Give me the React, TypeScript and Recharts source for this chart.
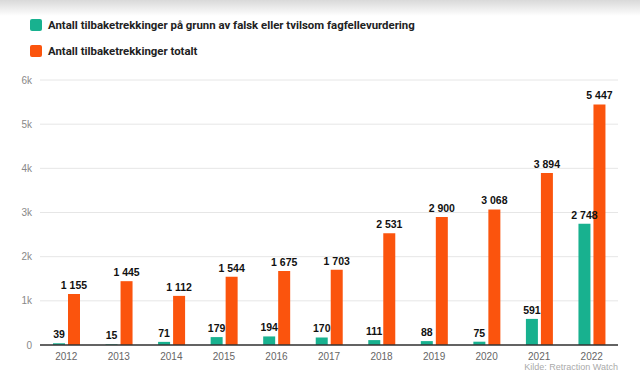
import { BarChart, Bar, XAxis, YAxis, CartesianGrid, LabelList } from "recharts";

const years = ["2012", "2013", "2014", "2015", "2016", "2017", "2018", "2019", "2020", "2021", "2022"];
const peerReview = [39, 15, 71, 179, 194, 170, 111, 88, 75, 591, 2748];
const total = [1155, 1445, 1112, 1544, 1675, 1703, 2531, 2900, 3068, 3894, 5447];
const yTicks = [0, 1000, 2000, 3000, 4000, 5000, 6000];

const TEAL = "#18b18f";
const ORANGE = "#fb540d";

const data = years.map((y, i) => ({ year: y, peer: peerReview[i], total: total[i] }));

// non-breaking space as thousands separator so the label doesn't wrap
const fmt = (v: any) => String(v).replace(/\B(?=(\d{3})+(?!\d))/g, "\u00a0");

const legendText: React.CSSProperties = {
  fontFamily: "Roboto, sans-serif",
  fontWeight: 700,
  fontSize: 11.4,
  color: "#222",
  whiteSpace: "nowrap",
};

export default function App() {
  return (
    <div
      style={{
        position: "absolute",
        left: 0,
        top: 0,
        width: 640,
        height: 382,
        background: "linear-gradient(#d9d9d9 0px, #ffffff 16px, #ffffff 100%)",
        fontFamily: "'Liberation Sans', Arial, sans-serif",
        overflow: "hidden",
      }}
    >
      <div style={{ position: "absolute", left: 30, top: 19, width: 12, height: 12, background: TEAL, borderRadius: 2 }} />
      <div style={{ ...legendText, position: "absolute", left: 48, top: 18 }}>
        Antall tilbaketrekkinger på grunn av falsk eller tvilsom fagfellevurdering
      </div>
      <div style={{ position: "absolute", left: 30, top: 45, width: 12, height: 12, background: ORANGE, borderRadius: 2 }} />
      <div style={{ ...legendText, position: "absolute", left: 48, top: 44 }}>
        Antall tilbaketrekkinger totalt
      </div>

      <div style={{ position: "absolute", left: 0, top: 0 }}>
        <BarChart
          width={640}
          height={382}
          data={data}
          margin={{ top: 80, right: 22, bottom: 12, left: 10 }}
          barSize={12}
          barGap={3}
        >
          <CartesianGrid vertical={false} stroke="#e6e6e6" />
          <XAxis
            dataKey="year"
            tickLine={false}
            axisLine={{ stroke: "#333", strokeWidth: 1.5 }}
            tick={{ fill: "#666", fontSize: 10 }}
            height={25}
          />
          <YAxis
            width={30}
            domain={[0, 6000]}
            ticks={yTicks}
            axisLine={false}
            tickLine={false}
            tick={{ fill: "#888", fontSize: 10 }}
            tickFormatter={(v: number) => (v === 0 ? "0" : `${v / 1000}k`)}
          />
          <Bar dataKey="peer" fill={TEAL} isAnimationActive={false}>
            <LabelList dataKey="peer" position="top" offset={5} formatter={fmt} fill="#111" fontSize={10.5} fontWeight={700} />
          </Bar>
          <Bar dataKey="total" fill={ORANGE} isAnimationActive={false}>
            <LabelList dataKey="total" position="top" offset={5} formatter={fmt} fill="#111" fontSize={10.5} fontWeight={700} />
          </Bar>
        </BarChart>
      </div>

      <div style={{ position: "absolute", right: 22, top: 362, fontSize: 9, color: "#aaa" }}>
        Kilde: Retraction Watch
      </div>
    </div>
  );
}
